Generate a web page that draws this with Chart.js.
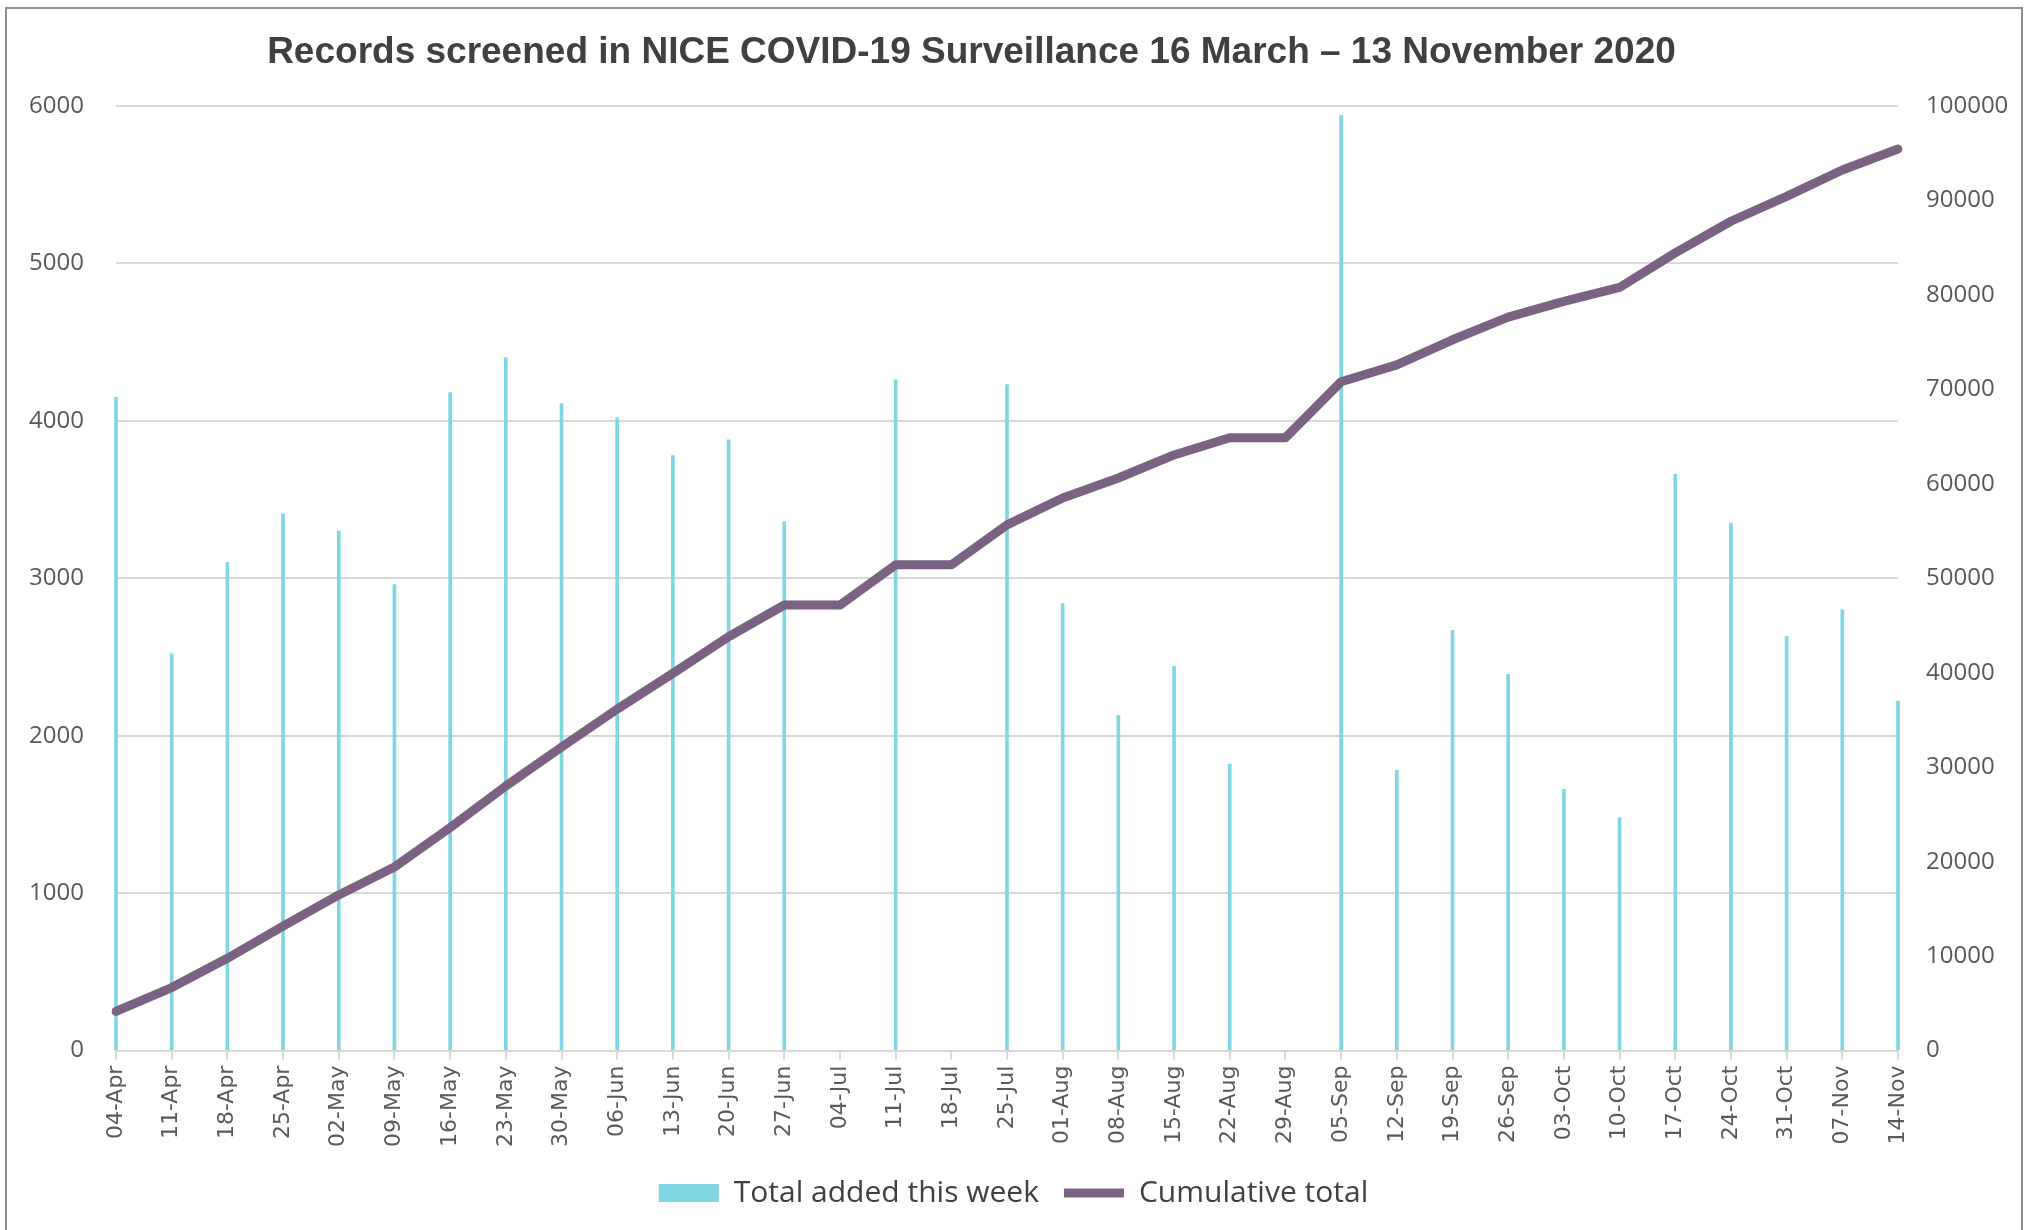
<!DOCTYPE html>
<html>
<head>
<meta charset="utf-8">
<script src="https://cdn.jsdelivr.net/npm/chart.js@4.4.0/dist/chart.umd.min.js"></script>
<style>
  html, body { margin: 0; padding: 0; background: #fff; }
  #wrap { position: relative; width: 2027px; height: 1230px; }
  #frame { position: absolute; left: 5px; top: 7px; width: 2014px; height: 1240px; border: 2px solid #8f8f8f; pointer-events: none; }
</style>
</head>
<body>
<div id="wrap">
  <canvas id="chart"></canvas>
  <div id="frame"></div>
</div>
<script>
const TITLE = 'Records screened in NICE COVID-19 Surveillance 16 March \u2013 13 November 2020';

const weeks = ['04-Apr', '11-Apr', '18-Apr', '25-Apr', '02-May', '09-May', '16-May', '23-May', '30-May',
  '06-Jun', '13-Jun', '20-Jun', '27-Jun', '04-Jul', '11-Jul', '18-Jul', '25-Jul', '01-Aug', '08-Aug',
  '15-Aug', '22-Aug', '29-Aug', '05-Sep', '12-Sep', '19-Sep', '26-Sep', '03-Oct', '10-Oct', '17-Oct',
  '24-Oct', '31-Oct', '07-Nov', '14-Nov'];

// weekly additions (left axis)
const weeklyAdded = [4150, 2520, 3100, 3410, 3300, 2960, 4180, 4400, 4110, 4020, 3780, 3880, 3360, 0,
  4260, 0, 4230, 2840, 2130, 2440, 1820, 0, 5940, 1780, 2670, 2390, 1660, 1480, 3660, 3350, 2630, 2800, 2220];

// running total (right axis)
const cumulativeTotal = [4150, 6670, 9770, 13180, 16480, 19440, 23610, 28010, 32130, 36150, 39930, 43810,
  47170, 47170, 51430, 51430, 55650, 58500, 60620, 63060, 64880, 64880, 70810, 72590, 75250, 77650,
  79310, 80790, 84450, 87800, 90430, 93230, 95450];

const BAR_COLOUR = '#80d6e3';
const LINE_COLOUR = '#7b6283';
const TICK_COLOUR = '#595959';
const GRID_COLOUR = '#d9d9d9';

const titlePlugin = {
  id: 'excelTitle',
  afterDraw(chart) {
    const ctx = chart.ctx;
    ctx.save();
    ctx.font = 'bold 37px "Liberation Sans", Arial, sans-serif';
    ctx.fillStyle = '#404040';
    ctx.textAlign = 'center';
    ctx.textBaseline = 'alphabetic';
    ctx.fillText(TITLE, chart.width / 2 - 42, 63);
    ctx.restore();
  }
};

const tickFont = { family: '"Open Sans", "Noto Sans", sans-serif', size: 24 };
const plainNumber = v => String(v);

new Chart(document.getElementById('chart'), {
  type: 'bar',
  data: {
    labels: weeks,
    datasets: [{
      label: 'Total added this week',
      data: weeklyAdded,
      backgroundColor: BAR_COLOUR,
      borderWidth: 0,
      barThickness: 3,
      yAxisID: 'y',
      clip: false,
      order: 1
    }, {
      type: 'line',
      label: 'Cumulative total',
      data: cumulativeTotal,
      borderColor: LINE_COLOUR,
      backgroundColor: LINE_COLOUR,
      borderWidth: 9,
      borderCapStyle: 'round',
      borderJoinStyle: 'round',
      pointRadius: 0,
      tension: 0,
      yAxisID: 'y1',
      order: 0
    }]
  },
  options: {
    responsive: true,
    maintainAspectRatio: false,
    animation: false,
    layout: { padding: { top: 106, left: 0, right: 0, bottom: 12 } },
    plugins: {
      title: { display: false },
      tooltip: { enabled: false },
      legend: {
        position: 'bottom',
        labels: {
          usePointStyle: true,
          pointStyleWidth: 60,
          boxHeight: 18,
          padding: 25,
          color: '#404040',
          font: { family: '"Open Sans", "Noto Sans", sans-serif', size: 30 },
          sort: (a, b) => a.datasetIndex - b.datasetIndex,
          generateLabels(chart) {
            const items = Chart.defaults.plugins.legend.labels.generateLabels(chart);
            items.forEach(it => { it.pointStyle = it.datasetIndex === 0 ? 'rect' : 'line'; });
            return items;
          }
        }
      }
    },
    scales: {
      x: {
        offset: false,
        grid: { offset: false, drawOnChartArea: false, drawTicks: true, tickLength: 9, color: GRID_COLOUR, lineWidth: 2 },
        border: { display: true, color: GRID_COLOUR, width: 2 },
        ticks: {
          autoSkip: false, minRotation: 90, maxRotation: 90, padding: 6,
          color: TICK_COLOUR,
          font: { family: '"DejaVu Sans", sans-serif', size: 22 }
        }
      },
      y: {
        position: 'left',
        min: 0, max: 6000,
        grid: { color: GRID_COLOUR, lineWidth: 2, drawTicks: false },
        border: { display: false },
        ticks: { stepSize: 1000, padding: 32, color: TICK_COLOUR, font: tickFont, callback: plainNumber },
        afterFit(scale) { scale.width = 116; }
      },
      y1: {
        position: 'right',
        min: 0, max: 100000,
        grid: { display: false, drawTicks: false },
        border: { display: false },
        ticks: { stepSize: 10000, padding: 28, color: TICK_COLOUR, font: tickFont, callback: plainNumber },
        afterFit(scale) { scale.width = 129; }
      }
    }
  },
  plugins: [titlePlugin]
});
</script>
</body>
</html>
